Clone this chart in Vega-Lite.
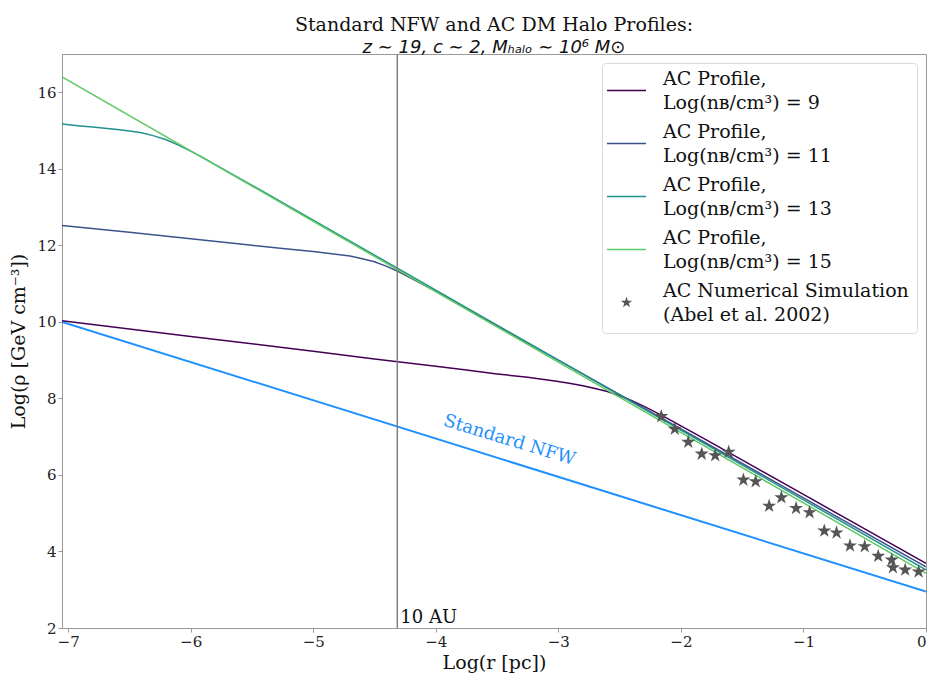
{
  "$schema": "https://vega.github.io/schema/vega-lite/v6.json",
  "width": 864,
  "height": 574,
  "autosize": {"type": "none"},
  "padding": {"left": 62, "top": 54, "right": 2, "bottom": 46},
  "background": "white",
  "config": {
    "view": {"stroke": "#999999", "strokeWidth": 1},
    "font": "DejaVu Serif",
    "style": {"guide-label": {"lineHeight": 24}},
    "axis": {
      "domainColor": "#999999",
      "tickColor": "#999999",
      "tickSize": 4,
      "labelFont": "DejaVu Serif",
      "labelFontSize": 15,
      "labelColor": "#222222",
      "titleFont": "DejaVu Serif",
      "titleFontSize": 19,
      "titleFontWeight": "normal",
      "titleColor": "#111111",
      "grid": false
    },
    "legend": {
      "orient": "top-right",
      "offset": 9,
      "padding": 8,
      "fillColor": "white",
      "strokeColor": "#d9d9d9",
      "cornerRadius": 4,
      "labelFont": "DejaVu Serif",
      "labelFontSize": 19,
      "labelColor": "#111111",
      "labelLimit": 400,
      "labelBaseline": "line-bottom",
      "symbolSize": 144,
      "symbolOffset": 7,
      "labelOffset": 27,
      "rowPadding": 9,
      "titleFontSize": 6,
      "titlePadding": 4
    }
  },
  "title": {
    "text": "Standard NFW and AC DM Halo Profiles:",
    "subtitle": "z ∼ 19, c ∼ 2, Mₕₐₗₒ ∼ 10⁶ M⊙",
    "anchor": "middle",
    "font": "DejaVu Serif",
    "fontSize": 19,
    "fontWeight": "normal",
    "color": "#111111",
    "subtitleFont": "DejaVu Sans",
    "subtitleFontSize": 18,
    "subtitleFontStyle": "italic",
    "subtitleColor": "#111111",
    "subtitlePadding": 4,
    "offset": -4
  },
  "datasets": {
    "ac": [
      {"x": -7.05, "y": 10.03, "s": "9"}, {"x": -6, "y": 9.62, "s": "9"}, {"x": -5, "y": 9.23, "s": "9"},
      {"x": -4.5, "y": 9.03, "s": "9"}, {"x": -4, "y": 8.84, "s": "9"}, {"x": -3.75, "y": 8.74, "s": "9"},
      {"x": -3.5, "y": 8.64, "s": "9"}, {"x": -3.25, "y": 8.55, "s": "9"}, {"x": -3, "y": 8.44, "s": "9"},
      {"x": -2.9, "y": 8.39, "s": "9"}, {"x": -2.8, "y": 8.33, "s": "9"}, {"x": -2.7, "y": 8.26, "s": "9"},
      {"x": -2.6, "y": 8.18, "s": "9"}, {"x": -2.5, "y": 8.07, "s": "9"}, {"x": -2.4, "y": 7.94, "s": "9"},
      {"x": -2.3, "y": 7.79, "s": "9"}, {"x": -2.2, "y": 7.63, "s": "9"}, {"x": -2.1, "y": 7.46, "s": "9"},
      {"x": -2, "y": 7.28, "s": "9"}, {"x": -1.8, "y": 6.93, "s": "9"}, {"x": -1.6, "y": 6.57, "s": "9"},
      {"x": -1.4, "y": 6.21, "s": "9"}, {"x": -1, "y": 5.49, "s": "9"}, {"x": -0.5, "y": 4.59, "s": "9"},
      {"x": 0, "y": 3.69, "s": "9"},
      {"x": -7.05, "y": 12.52, "s": "11"}, {"x": -6.5, "y": 12.34, "s": "11"}, {"x": -6, "y": 12.17, "s": "11"},
      {"x": -5.5, "y": 12.0, "s": "11"}, {"x": -5.25, "y": 11.92, "s": "11"}, {"x": -5, "y": 11.84, "s": "11"},
      {"x": -4.9, "y": 11.8, "s": "11"}, {"x": -4.8, "y": 11.76, "s": "11"}, {"x": -4.7, "y": 11.72, "s": "11"},
      {"x": -4.6, "y": 11.65, "s": "11"}, {"x": -4.5, "y": 11.57, "s": "11"}, {"x": -4.4, "y": 11.45, "s": "11"},
      {"x": -4.3, "y": 11.31, "s": "11"}, {"x": -4.2, "y": 11.14, "s": "11"}, {"x": -4.1, "y": 10.97, "s": "11"},
      {"x": -4, "y": 10.8, "s": "11"}, {"x": -3.8, "y": 10.44, "s": "11"}, {"x": -3.5, "y": 9.9, "s": "11"},
      {"x": -3, "y": 9.0, "s": "11"}, {"x": -2, "y": 7.2, "s": "11"}, {"x": -1, "y": 5.4, "s": "11"},
      {"x": 0, "y": 3.6, "s": "11"},
      {"x": -7.05, "y": 15.17, "s": "13"}, {"x": -6.9, "y": 15.12, "s": "13"}, {"x": -6.8, "y": 15.09, "s": "13"},
      {"x": -6.7, "y": 15.06, "s": "13"}, {"x": -6.6, "y": 15.03, "s": "13"}, {"x": -6.5, "y": 14.99, "s": "13"},
      {"x": -6.4, "y": 14.94, "s": "13"}, {"x": -6.3, "y": 14.86, "s": "13"}, {"x": -6.2, "y": 14.76, "s": "13"},
      {"x": -6.1, "y": 14.62, "s": "13"}, {"x": -6, "y": 14.46, "s": "13"}, {"x": -5.9, "y": 14.29, "s": "13"},
      {"x": -5.8, "y": 14.11, "s": "13"}, {"x": -5.6, "y": 13.75, "s": "13"}, {"x": -5.4, "y": 13.39, "s": "13"},
      {"x": -5, "y": 12.66, "s": "13"}, {"x": -4, "y": 10.83, "s": "13"}, {"x": -3, "y": 9.0, "s": "13"},
      {"x": -2, "y": 7.17, "s": "13"}, {"x": -1, "y": 5.35, "s": "13"}, {"x": 0, "y": 3.52, "s": "13"},
      {"x": -7.05, "y": 16.4, "s": "15"}, {"x": -5, "y": 12.63, "s": "15"}, {"x": -3, "y": 8.95, "s": "15"},
      {"x": -1, "y": 5.27, "s": "15"}, {"x": 0, "y": 3.43, "s": "15"}
    ],
    "nfw": [
      {"x": -7.05, "y": 10.0}, {"x": 0, "y": 2.95}
    ],
    "sim": [
      {"x": -2.16, "y": 7.53, "s": "sim"}, {"x": -2.05, "y": 7.2, "s": "sim"}, {"x": -1.94, "y": 6.86, "s": "sim"},
      {"x": -1.83, "y": 6.55, "s": "sim"}, {"x": -1.72, "y": 6.51, "s": "sim"}, {"x": -1.61, "y": 6.6, "s": "sim"},
      {"x": -1.49, "y": 5.87, "s": "sim"}, {"x": -1.39, "y": 5.83, "s": "sim"}, {"x": -1.28, "y": 5.19, "s": "sim"},
      {"x": -1.18, "y": 5.41, "s": "sim"}, {"x": -1.06, "y": 5.13, "s": "sim"}, {"x": -0.95, "y": 5.02, "s": "sim"},
      {"x": -0.83, "y": 4.54, "s": "sim"}, {"x": -0.73, "y": 4.49, "s": "sim"}, {"x": -0.62, "y": 4.15, "s": "sim"},
      {"x": -0.5, "y": 4.13, "s": "sim"}, {"x": -0.39, "y": 3.88, "s": "sim"}, {"x": -0.28, "y": 3.78, "s": "sim"},
      {"x": -0.27, "y": 3.58, "s": "sim"}, {"x": -0.17, "y": 3.52, "s": "sim"}, {"x": -0.06, "y": 3.47, "s": "sim"}
    ],
    "vline": [
      {"x": -4.314, "y": 2, "label": "10 AU"}
    ],
    "nfwlabel": [
      {"x": -3.4, "y": 6.9, "label": "Standard NFW"}
    ]
  },
  "encoding": {
    "x": {
      "field": "x", "type": "quantitative",
      "scale": {"domain": [-7.05, 0], "nice": false, "zero": false},
      "axis": {"title": "Log(r [pc])", "values": [-7, -6, -5, -4, -3, -2, -1, 0], "format": "d", "labelPadding": 2, "titlePadding": 4}
    },
    "y": {
      "field": "y", "type": "quantitative",
      "scale": {"domain": [2, 17], "nice": false, "zero": false},
      "axis": {"title": "Log(ρ [GeV cm⁻³])", "values": [2, 4, 6, 8, 10, 12, 14, 16], "format": "d", "labelPadding": 2, "titlePadding": 8}
    }
  },
  "layer": [
    {
      "data": {"name": "nfw"},
      "mark": {"type": "line", "color": "#1e90ff", "strokeWidth": 2, "clip": true}
    },
    {
      "data": {"name": "ac"},
      "mark": {"type": "line", "strokeWidth": 1.5, "clip": true},
      "encoding": {
        "stroke": {
          "field": "s", "type": "nominal",
          "scale": {"domain": ["9", "11", "13", "15"], "range": ["#440154", "#3b528b", "#21918c", "#5ec962"]},
          "legend": null
        }
      }
    },
    {
      "data": {"name": "vline"},
      "mark": {"type": "rule", "color": "#808080", "strokeWidth": 1.5},
      "encoding": {"y": null}
    },
    {
      "data": {"name": "vline"},
      "mark": {"type": "text", "align": "left", "baseline": "bottom", "dx": 3, "dy": -1, "font": "DejaVu Serif", "fontSize": 18, "color": "#111111"},
      "encoding": {"text": {"field": "label"}}
    },
    {
      "data": {"name": "nfwlabel"},
      "mark": {"type": "text", "align": "center", "baseline": "middle", "angle": 17, "font": "DejaVu Serif", "fontSize": 18, "color": "#1e90ff"},
      "encoding": {"text": {"field": "label"}}
    },
    {
      "data": {"name": "sim"},
      "mark": {"type": "point", "filled": true, "size": 220, "opacity": 1},
      "encoding": {
        "color": {
          "field": "s", "type": "nominal",
          "scale": {"domain": ["9", "11", "13", "15", "sim"], "range": ["#440154", "#3b528b", "#21918c", "#5ec962", "#555555"]},
          "legend": {
            "title": " ",
            "labelExpr": "datum.value == 'sim' ? ['AC Numerical Simulation', ' (Abel et al. 2002)'] : ['AC Profile,', 'Log(nʙ/cm³) = ' + datum.value]"
          }
        },
        "shape": {
          "field": "s", "type": "nominal",
          "scale": {"domain": ["9", "11", "13", "15", "sim"], "range": [
            "M-3.25,-0.12L3.25,-0.12L3.25,0.12L-3.25,0.12Z",
            "M-3.25,-0.12L3.25,-0.12L3.25,0.12L-3.25,0.12Z",
            "M-3.25,-0.12L3.25,-0.12L3.25,0.12L-3.25,0.12Z",
            "M-3.25,-0.12L3.25,-0.12L3.25,0.12L-3.25,0.12Z",
            "M0,-1L0.2245,-0.309L0.9511,-0.309L0.3633,0.118L0.5878,0.809L0,0.382L-0.5878,0.809L-0.3633,0.118L-0.9511,-0.309L-0.2245,-0.309Z"
          ]},
          "legend": {
            "title": " ",
            "labelExpr": "datum.value == 'sim' ? ['AC Numerical Simulation', ' (Abel et al. 2002)'] : ['AC Profile,', 'Log(nʙ/cm³) = ' + datum.value]"
          }
        }
      }
    }
  ]
}
